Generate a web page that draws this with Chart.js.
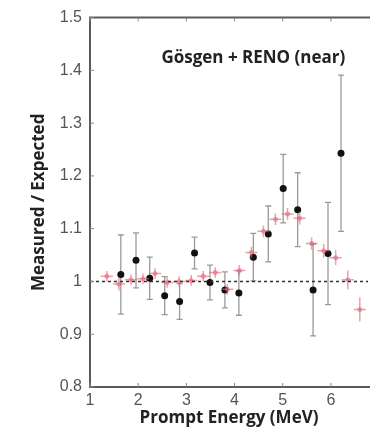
<!DOCTYPE html>
<html>
<head>
<meta charset="utf-8">
<script src="https://cdn.jsdelivr.net/npm/chart.js@4.4.0/dist/chart.umd.min.js"></script>
<style>
  html, body { margin: 0; padding: 0; background: #fff; overflow: hidden; }
  #wrap { width: 372px; height: 429px; position: relative; }
</style>
</head>
<body>
<div id="wrap"><canvas id="c"></canvas></div>
<script>
// Gösgen + RENO (near) points, black = measured ratio with error
const blackX = [1.64, 1.955, 2.24, 2.55, 2.86, 3.17, 3.49, 3.80, 4.09, 4.39, 4.70, 5.01, 5.31, 5.63, 5.94, 6.21];
const blackY = [1.013, 1.040, 1.006, 0.973, 0.962, 1.054, 0.998, 0.984, 0.978, 1.046, 1.090, 1.176, 1.136, 0.984, 1.053, 1.243];
const blackErr = [0.075, 0.052, 0.040, 0.036, 0.034, 0.030, 0.033, 0.034, 0.042, 0.045, 0.053, 0.065, 0.070, 0.087, 0.097, 0.148];

// red crosses (other experiment), 0.25 MeV bins
const redX = [1.35, 1.60, 1.85, 2.10, 2.35, 2.60, 2.85, 3.10, 3.35, 3.60, 3.85, 4.10, 4.35, 4.60, 4.85, 5.10, 5.35, 5.60, 5.85, 6.10, 6.35, 6.60];
const redY = [1.010, 0.995, 1.003, 1.005, 1.015, 0.998, 1.000, 1.002, 1.010, 1.017, 0.985, 1.021, 1.055, 1.095, 1.118, 1.128, 1.120, 1.072, 1.058, 1.045, 1.003, 0.947];
const redErr = [0.010, 0.012, 0.010, 0.010, 0.010, 0.010, 0.010, 0.010, 0.010, 0.010, 0.010, 0.010, 0.011, 0.011, 0.011, 0.011, 0.012, 0.012, 0.013, 0.014, 0.018, 0.023];
const redHalfBin = 0.125;

const xTicks = [1, 2, 3, 4, 5, 6];
const yTicks = [0.8, 0.9, 1.0, 1.1, 1.2, 1.3, 1.4, 1.5];
const yTickLabels = ["0.8", "0.9", "1", "1.1", "1.2", "1.3", "1.4", "1.5"];
const xRange = [1, 6.77];
const yRange = [0.8, 1.5];

const panelTitle = "Gösgen + RENO (near)";
const xTitle = "Prompt Energy (MeV)";
const yTitle = "Measured / Expected";

const titleFont = { family: "'Open Sans', sans-serif", size: 17, weight: "bold" };
const tickFont = { family: "'Liberation Sans', Arial, sans-serif", size: 16 };

function drawErrors(ctx, xs, ys, xScale, yScale, xs0, ys0, opts) {
  ctx.save();
  ctx.strokeStyle = opts.color;
  ctx.lineWidth = opts.width;
  for (let i = 0; i < xs0.length; i++) {
    const px = xScale.getPixelForValue(xs0[i]);
    const py = yScale.getPixelForValue(ys0[i]);
    const top = yScale.getPixelForValue(ys0[i] + ys[i]);
    const bot = yScale.getPixelForValue(ys0[i] - ys[i]);
    ctx.beginPath();
    ctx.moveTo(px, top); ctx.lineTo(px, bot);
    if (opts.cap) {
      ctx.moveTo(px - opts.cap, top); ctx.lineTo(px + opts.cap, top);
      ctx.moveTo(px - opts.cap, bot); ctx.lineTo(px + opts.cap, bot);
    }
    if (xs) {
      ctx.moveTo(xScale.getPixelForValue(xs0[i] - xs), py);
      ctx.lineTo(xScale.getPixelForValue(xs0[i] + xs), py);
    }
    ctx.stroke();
  }
  ctx.restore();
}

const errorBars = {
  id: "errorBars",
  beforeDatasetDraw(chart, args) {
    const { ctx, scales: { x, y } } = chart;
    if (args.index === 1) {
      drawErrors(ctx, redHalfBin, redErr, x, y, redX, redY, { color: "rgba(226,96,116,0.6)", width: 1.5 });
    }
    if (args.index === 2) {
      drawErrors(ctx, null, blackErr, x, y, blackX, blackY, { color: "#9a9a9a", width: 1.3, cap: 3 });
    }
  }
};

const frame = {
  id: "frame",
  afterDraw(chart) {
    const { ctx, chartArea: ca, scales: { x, y } } = chart;
    ctx.save();
    ctx.strokeStyle = "#5a5a5a";
    ctx.lineWidth = 2;
    ctx.beginPath();
    ctx.moveTo(ca.right + 2, ca.top); ctx.lineTo(ca.left, ca.top);
    ctx.lineTo(ca.left, ca.bottom); ctx.lineTo(ca.right + 2, ca.bottom);
    ctx.stroke();
    ctx.lineWidth = 1;
    ctx.strokeStyle = "#888";
    ctx.beginPath();
    yTicks.forEach(v => {
      const py = y.getPixelForValue(v);
      ctx.moveTo(ca.left, py); ctx.lineTo(ca.left + 4, py);
    });
    xTicks.forEach(v => {
      const px = x.getPixelForValue(v);
      ctx.moveTo(px, ca.bottom); ctx.lineTo(px, ca.bottom - 4);
      ctx.moveTo(px, ca.top); ctx.lineTo(px, ca.top + 4);
    });
    ctx.stroke();
    // panel label inside the plot
    ctx.fillStyle = "#222";
    ctx.font = "bold 17px 'Open Sans', sans-serif";
    ctx.textAlign = "center";
    ctx.textBaseline = "middle";
    ctx.fillText(panelTitle, x.getPixelForValue(4.39), y.getPixelForValue(1.424));
    ctx.restore();
  }
};

new Chart(document.getElementById("c"), {
  type: "scatter",
  data: {
    datasets: [
      {
        type: "line",
        data: [{ x: xRange[0], y: 1 }, { x: xRange[1], y: 1 }],
        borderColor: "#333",
        borderWidth: 1.5,
        borderDash: [3, 3],
        pointRadius: 0
      },
      {
        data: redX.map((v, i) => ({ x: v, y: redY[i] })),
        backgroundColor: "rgba(226,96,116,0.55)",
        borderWidth: 0,
        pointRadius: 2.5
      },
      {
        data: blackX.map((v, i) => ({ x: v, y: blackY[i] })),
        backgroundColor: "#111",
        borderWidth: 0,
        pointRadius: 3.5
      }
    ]
  },
  options: {
    responsive: true,
    maintainAspectRatio: false,
    animation: false,
    layout: { padding: { top: 14, right: 0, left: 0, bottom: 0 } },
    plugins: { legend: { display: false }, tooltip: { enabled: false } },
    scales: {
      x: {
        type: "linear",
        min: xRange[0],
        max: xRange[1],
        afterBuildTicks: s => { s.ticks = xTicks.map(v => ({ value: v })); },
        afterFit: s => { s.height = 42; },
        grid: { display: false, drawTicks: false },
        border: { display: false },
        ticks: { font: tickFont, color: "#555", padding: 4, callback: v => String(v) },
        title: { display: true, text: xTitle, font: titleFont, color: "#222", padding: { top: 0, bottom: 1 } }
      },
      y: {
        min: yRange[0],
        max: yRange[1],
        afterBuildTicks: s => { s.ticks = yTicks.map(v => ({ value: v })); },
        afterFit: s => { s.width = 90; },
        grid: { display: false, drawTicks: false },
        border: { display: false },
        ticks: { font: tickFont, color: "#555", padding: 8, callback: (v, i) => yTickLabels[i] },
        title: { display: true, text: yTitle, font: titleFont, color: "#222", padding: { top: 29, bottom: 0 } }
      }
    }
  },
  plugins: [errorBars, frame]
});
</script>
</body>
</html>
